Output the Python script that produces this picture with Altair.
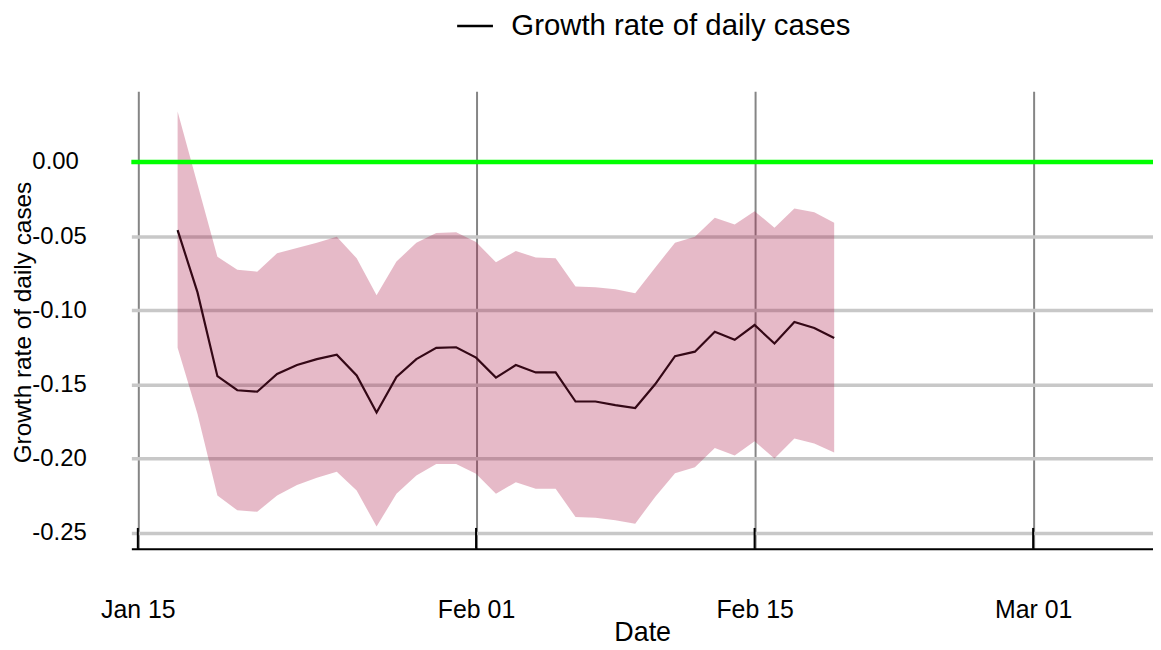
import altair as alt
import pandas as pd

# ---- data ----
start_date = "2022-01-17"
n_days = 34
growth_mean = [-0.046, -0.088, -0.1445, -0.154, -0.155, -0.143, -0.137, -0.133, -0.130, -0.144,
               -0.169, -0.145, -0.133, -0.1254, -0.125, -0.132, -0.1455, -0.137, -0.142, -0.142,
               -0.1616, -0.1616, -0.164, -0.166, -0.150, -0.131, -0.128, -0.1146, -0.120, -0.110,
               -0.1225, -0.108, -0.112, -0.1187]
growth_upper = [0.034, -0.015, -0.064, -0.0728, -0.074, -0.0616, -0.058, -0.0545, -0.0505, -0.065,
                -0.090, -0.0672, -0.0545, -0.048, -0.0475, -0.054, -0.0677, -0.060, -0.0645, -0.065,
                -0.084, -0.0845, -0.0858, -0.0885, -0.0713, -0.0545, -0.0505, -0.0377, -0.0422, -0.0332,
                -0.0444, -0.0314, -0.034, -0.041]
growth_lower = [-0.1254, -0.170, -0.225, -0.235, -0.236, -0.225, -0.218, -0.213, -0.209, -0.2216,
                -0.246, -0.2238, -0.2115, -0.2037, -0.2037, -0.2104, -0.2238, -0.216, -0.2205, -0.2205,
                -0.2395, -0.240, -0.2417, -0.244, -0.226, -0.210, -0.206, -0.193, -0.198, -0.1885,
                -0.200, -0.1865, -0.190, -0.196]
series_name = ["Growth rate of daily cases"]
x_tick_dates = ["2022-01-15", "2022-02-01", "2022-02-15", "2022-03-01"]
y_tick_values = [0.0, -0.05, -0.10, -0.15, -0.20, -0.25]
reference_level = [0.0]

dates = pd.date_range(start_date, periods=n_days, freq="D").strftime("%Y-%m-%d").tolist()
df = pd.DataFrame({
    "date": dates,
    "mean": growth_mean,
    "lower": growth_lower,
    "upper": growth_upper,
    "series": series_name * n_days,
})
ticks_df = pd.DataFrame({"date": x_tick_dates})
zero_df = pd.DataFrame({"y": reference_level})

W, H = 1027, 460
FONT = "Liberation Sans"

x_scale = alt.Scale(domain=["2022-01-14T16:12:00", "2022-03-07T00:36:00"], nice=False)
y_scale = alt.Scale(domain=[-0.2610, 0.0477], nice=False, zero=False)

x_axis = alt.Axis(
    values=[pd.Timestamp(d).isoformat() for d in x_tick_dates],
    format="%b %d", labelFontSize=25, labelFont=FONT, labelColor="black",
    labelBaseline="alphabetic", labelPadding=69, ticks=False,
    domainColor="black", domainWidth=2,
    grid=True, gridColor="#858585", gridWidth=2,
    title="Date", titleFont=FONT, titleFontSize=27, titleFontWeight="normal",
    titleColor="black", titleBaseline="alphabetic", titleY=92, labelFlush=False,
)
y_axis = alt.Axis(
    values=y_tick_values,
    labelExpr="datum.value < 0 ? '-' + format(-datum.value, '.2f') : format(datum.value, '.2f')",
    labelFontSize=24, labelFont=FONT, labelColor="black", labelAlign="left",
    labelBaseline="middle", labelPadding=100, ticks=False, domain=False,
    grid=True, gridColor="#c8c8c8", gridWidth=3.5,
    title="Growth rate of daily cases", titleFont=FONT, titleFontSize=24.5,
    titleFontWeight="normal", titleColor="black", titleAngle=270,
    titleBaseline="alphabetic", titleX=-101, titleY=H / 2 + 2,
)

base = alt.Chart(df)

line = base.mark_line(strokeWidth=2.2).encode(
    x=alt.X("date:T", scale=x_scale, axis=x_axis),
    y=alt.Y("mean:Q", scale=y_scale, axis=y_axis),
    color=alt.Color("series:N", scale=alt.Scale(range=["black"]),
                    legend=alt.Legend(title=None, orient="none", legendX=326, legendY=-85,
                                      symbolType="stroke", symbolSize=1296, symbolStrokeWidth=2.5,
                                      labelFontSize=29.5, labelFont=FONT, labelColor="black",
                                      labelOffset=17, labelLimit=800, padding=0)),
)

band = base.mark_area(color="#ac1c48", opacity=0.3).encode(
    x=alt.X("date:T", scale=x_scale),
    y=alt.Y("lower:Q", scale=y_scale),
    y2="upper:Q",
)

zero = alt.Chart(zero_df).mark_rule(color="#00ff00", strokeWidth=4.5).encode(
    y=alt.Y("y:Q", scale=y_scale),
)

ticks = alt.Chart(ticks_df).mark_rule(color="black", strokeWidth=2).encode(
    x=alt.X("date:T", scale=x_scale),
    y=alt.value(H - 21),
    y2=alt.value(H),
)

chart = alt.layer(line, band, zero, ticks).properties(
    width=W, height=H,
    autosize=alt.AutoSizeParams(type="none"),
    padding={"left": 124, "top": 82, "right": 0, "bottom": 98},
).configure(font=FONT).configure_view(stroke=None)

chart.save("out.html", embed_options={"renderer": "svg", "actions": False})
